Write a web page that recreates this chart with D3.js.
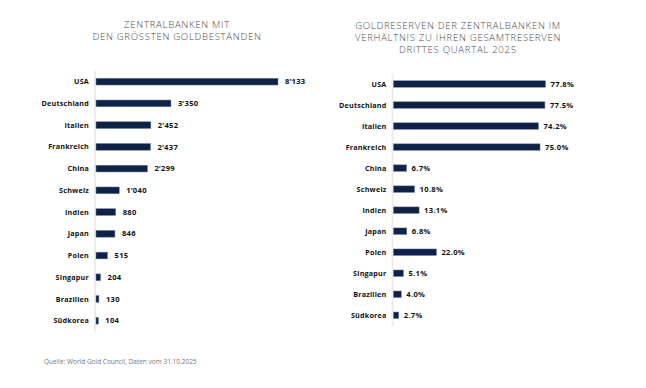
<!DOCTYPE html>
<html>
<head>
<meta charset="utf-8">
<script src="https://cdn.jsdelivr.net/npm/d3@7"></script>
<style>
  body { margin: 0; background: #fff; }
  svg { display: block; font-family: "Open Sans", sans-serif; }
</style>
</head>
<body>
<div id="chart"></div>
<script>
// Data
const countriesLeft = ["USA", "Deutschland", "Italien", "Frankreich", "China", "Schweiz", "Indien", "Japan", "Polen", "Singapur", "Brazilien", "Südkorea"];
const tonnes = [8133, 3350, 2452, 2437, 2299, 1040, 880, 846, 515, 204, 130, 104];

const countriesRight = ["USA", "Deutschland", "Italien", "Frankreich", "China", "Schweiz", "Indien", "Japan", "Polen", "Singapur", "Brazilien", "Südkorea"];
const shares = [77.8, 77.5, 74.2, 75.0, 6.7, 10.8, 13.1, 6.8, 22.0, 5.1, 4.0, 2.7];

const titleLeft = ["ZENTRALBANKEN MIT", "DEN GRÖSSTEN GOLDBESTÄNDEN"];
const titleRight = ["GOLDRESERVEN DER ZENTRALBANKEN IM", "VERHÄLTNIS ZU IHREN GESAMTRESERVEN", "DRITTES QUARTAL 2025"];
const source = "Quelle: World Gold Council, Daten vom 31.10.2025";

const width = 646;
const height = 388;
const barColor = "#0f2147";

const locale = d3.formatLocale({ decimal: ".", thousands: "’", grouping: [3], currency: ["", ""] });
const fmtT = locale.format(",d");
const fmtP = (v) => d3.format(".1f")(v) + "%";

const svg = d3.create("svg").attr("width", width).attr("height", height);

function panel(cfg) {
  const y = d3.scaleBand(cfg.cats, cfg.yRange).paddingInner(0.69).paddingOuter(0.345);
  const x = d3.scaleLinear([0, cfg.max], cfg.xRange);
  const g = svg.append("g");

  // title, one text per line
  g.selectAll("text.title")
    .data(cfg.title)
    .join("text")
    .attr("class", "title")
    .attr("x", cfg.titleX)
    .attr("y", (d, i) => cfg.titleY + i * 12.2)
    .attr("text-anchor", "middle")
    .attr("fill", "#4a4a4a")
    .attr("font-size", 9.6)
    .attr("font-weight", 300)
    .attr("letter-spacing", 0.7)
    .text((d) => d);

  // vertical baseline
  g.append("line")
    .attr("x1", x(0) - 1).attr("x2", x(0) - 1)
    .attr("y1", cfg.yRange[0]).attr("y2", cfg.yRange[1])
    .attr("stroke", "#ececec")
    .attr("stroke-width", 2);

  const rows = g.selectAll("g.row")
    .data(cfg.cats.map((c, i) => ({ c, v: cfg.values[i] })))
    .join("g");

  rows.append("rect")
    .attr("x", x(0))
    .attr("y", (d) => y(d.c))
    .attr("width", (d) => x(d.v) - x(0))
    .attr("height", y.bandwidth())
    .attr("fill", barColor)
    .attr("stroke", "#6f7f9f")
    .attr("stroke-width", 0.5);

  rows.append("text")
    .attr("x", x(0) - 7)
    .attr("y", (d) => y(d.c) + y.bandwidth() / 2)
    .attr("dy", "0.35em")
    .attr("text-anchor", "end")
    .attr("font-size", 7.2)
    .attr("font-weight", 700)
    .attr("letter-spacing", 0.2)
    .attr("fill", "#111")
    .text((d) => d.c);

  rows.append("text")
    .attr("x", (d) => x(d.v) + cfg.labelGap)
    .attr("y", (d) => y(d.c) + y.bandwidth() / 2)
    .attr("dy", "0.35em")
    .attr("font-size", 7.6)
    .attr("font-weight", 700)
    .attr("letter-spacing", 0.3)
    .attr("fill", "#111")
    .text((d) => cfg.fmt(d.v));
}

panel({
  cats: countriesLeft, values: tonnes, max: 8133,
  xRange: [96, 278], yRange: [70.8, 331.6],
  title: titleLeft, titleX: 177, titleY: 28,
  fmt: fmtT, labelGap: 7
});

panel({
  cats: countriesRight, values: shares, max: 77.8,
  xRange: [393.5, 545.5], yRange: [73.5, 325.8],
  title: titleRight, titleX: 458, titleY: 29,
  fmt: fmtP, labelGap: 5
});

svg.append("text")
  .attr("x", 44)
  .attr("y", 364)
  .attr("font-size", 6.5)
  .attr("fill", "#777")
  .text(source);

document.getElementById("chart").appendChild(svg.node());
</script>
</body>
</html>
